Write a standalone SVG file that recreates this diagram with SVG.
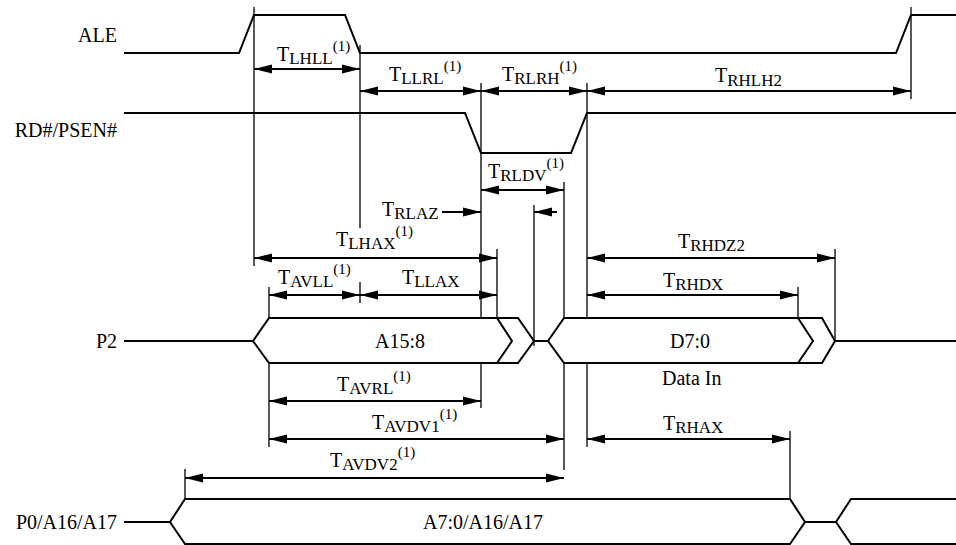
<svg xmlns="http://www.w3.org/2000/svg" width="956" height="545" viewBox="0 0 956 545">
<style>
.sig{fill:none;stroke:#000;stroke-width:2;stroke-linejoin:miter}
.ref{fill:none;stroke:#000;stroke-width:1.3}
.arr{fill:none;stroke:#000;stroke-width:2;marker-end:url(#ah);marker-start:url(#ah)}
.arr1{fill:none;stroke:#000;stroke-width:2;marker-end:url(#ah)}
text{font-family:"Liberation Serif","Times New Roman",serif;font-size:20px;fill:#000}
.lbl{text-anchor:end}
.sub{font-size:17px}
.sup{font-size:15px}
</style>
<defs>
<marker id="ah" markerUnits="userSpaceOnUse" markerWidth="18" markerHeight="10" refX="18" refY="4.5" orient="auto-start-reverse" viewBox="0 0 18 9">
<path d="M0,0 L18,4.5 L0,9 z" fill="#000"/>
</marker>
</defs>
<rect width="956" height="545" fill="#fff"/>

<g id="ALE">
<text class="lbl" x="117" y="42">ALE</text>
<path class="sig" d="M124,53 H239 L254,15 H345 L360,53 H896 L911,15 H956"/>
</g>
<g id="RD">
<text class="lbl" x="117" y="137">RD#/PSEN#</text>
<path class="sig" d="M124,113 H465 L481,153 H571 L587,113 H956"/>
</g>
<g id="P2">
<text class="lbl" x="117" y="348">P2</text>
<path class="sig" d="M124,341 H253 M253,341 L269,318 H518 L534,341 L518,363 H269 Z M497,318 L512,341 L497,363 M534,341 H548 M548,341 L564,318 H822 L835,341 L822,363 H564 Z M798,318 L813,341 L798,363 M835,341 H956"/>
<text x="375" y="348">A15:8</text>
<text x="670" y="348">D7:0</text>
<text x="662" y="385">Data In</text>
</g>
<g id="P0">
<text class="lbl" x="117" y="529">P0/A16/A17</text>
<path class="sig" d="M124,522 H170 M170,522 L185,499 H790 L805,522 L790,544 H185 Z M805,522 H836 M956,499 H851 L836,522 L851,544 H956"/>
<text x="423" y="529">A7:0/A16/A17</text>
</g>

<g id="connectors">
<path class="ref" d="M254,7 V266 M360,45 V228 M360,282 V303 M481,83 V318 M481,363 V408 M497,249 V318 M587,83 V318 M587,363 V447 M564,182 V318 M564,363 V470 M534,205 V346 M269,287 V318 M269,363 V447 M798,287 V318 M835,249 V341 M790,431 V499 M185,469 V499 M911,7 V99"/>
<path class="arr" d="M254,69 H360"/>
<path class="arr" d="M360,91 H481"/>
<path class="arr" d="M481,91 H587"/>
<path class="arr" d="M587,91 H911"/>
<path class="arr" d="M481,190 H564"/>
<path class="arr1" d="M442,212 H481"/>
<path class="arr1" d="M557,212 H534"/>
<path class="arr" d="M254,258 H497"/>
<path class="arr" d="M269,295 H360"/>
<path class="arr" d="M360,295 H497"/>
<path class="arr" d="M587,258 H835"/>
<path class="arr" d="M587,295 H798"/>
<path class="arr" d="M269,401 H481"/>
<path class="arr" d="M269,439 H564"/>
<path class="arr" d="M587,439 H790"/>
<path class="arr" d="M185,478 H564"/>
</g>

<g id="labels">
<text x="277" y="61">T<tspan class="sub" dy="3">LHLL</tspan><tspan class="sup" dy="-13">(1)</tspan></text>
<text x="389" y="81">T<tspan class="sub" dy="3">LLRL</tspan><tspan class="sup" dy="-13">(1)</tspan></text>
<text x="502" y="81">T<tspan class="sub" dy="3">RLRH</tspan><tspan class="sup" dy="-13">(1)</tspan></text>
<text x="715" y="82">T<tspan class="sub" dy="4">RHLH2</tspan></text>
<text x="488" y="178">T<tspan class="sub" dy="3">RLDV</tspan><tspan class="sup" dy="-13">(1)</tspan></text>
<text x="382" y="216">T<tspan class="sub" dy="3">RLAZ</tspan></text>
<text x="336" y="246">T<tspan class="sub" dy="3">LHAX</tspan><tspan class="sup" dy="-13">(1)</tspan></text>
<text x="278" y="284">T<tspan class="sub" dy="3">AVLL</tspan><tspan class="sup" dy="-13">(1)</tspan></text>
<text x="402" y="284">T<tspan class="sub" dy="3">LLAX</tspan></text>
<text x="678" y="248">T<tspan class="sub" dy="3">RHDZ2</tspan></text>
<text x="663" y="287">T<tspan class="sub" dy="3">RHDX</tspan></text>
<text x="337" y="391">T<tspan class="sub" dy="3">AVRL</tspan><tspan class="sup" dy="-13">(1)</tspan></text>
<text x="372" y="429">T<tspan class="sub" dy="3">AVDV1</tspan><tspan class="sup" dy="-13">(1)</tspan></text>
<text x="330" y="467">T<tspan class="sub" dy="3">AVDV2</tspan><tspan class="sup" dy="-13">(1)</tspan></text>
<text x="663" y="430">T<tspan class="sub" dy="3">RHAX</tspan></text>
</g>
</svg>
